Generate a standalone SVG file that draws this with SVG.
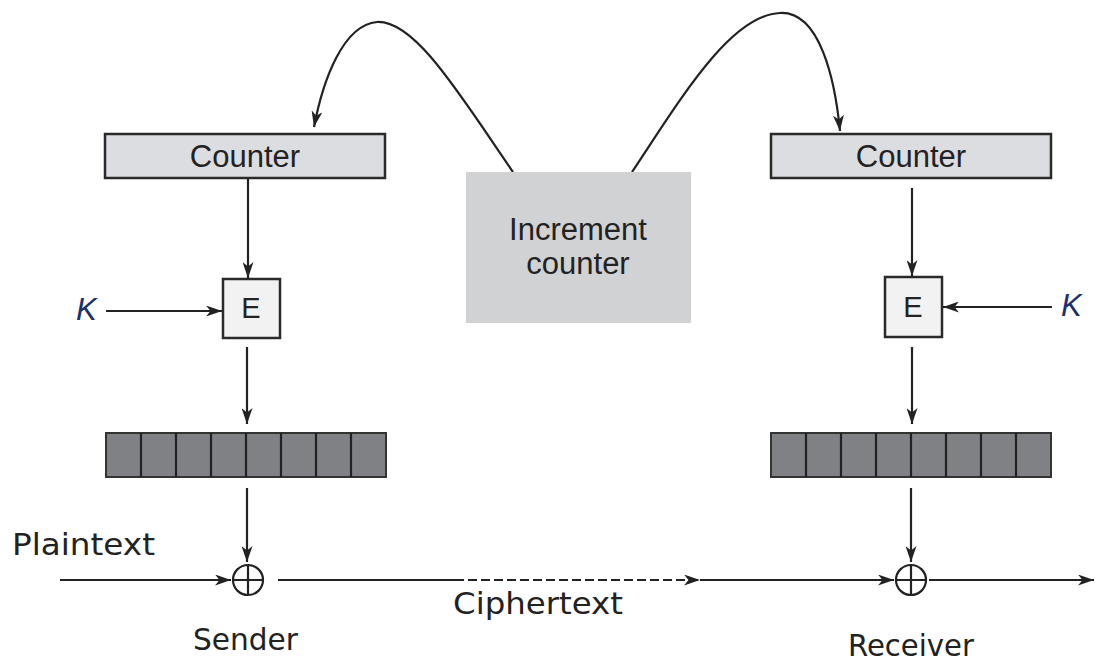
<svg xmlns="http://www.w3.org/2000/svg" width="1095" height="663" viewBox="0 0 1095 663">
<defs>
<marker id="ah" markerUnits="userSpaceOnUse" viewBox="0 0 16 11" markerWidth="16" markerHeight="11" refX="16" refY="5.5" orient="auto">
<path d="M0,0 L16,5.5 L0,11 L4.5,5.5 z" fill="#222"/>
</marker>
<style>
.ln{stroke:#222;stroke-width:2.2;fill:none}
.cnt{fill:#dcdde0;stroke:#2a2a2a;stroke-width:2.5}
.inc{fill:#d1d2d4}
.ebox{fill:#f2f2f2;stroke:#2a2a2a;stroke-width:2.5}
.reg{fill:#808184;stroke:#333;stroke-width:2}
.xor{fill:none;stroke:#222;stroke-width:2.2}
.ar{font-family:"Liberation Sans",Arial,sans-serif;fill:#222;text-anchor:middle}
.dv{font-family:"DejaVu Sans",Verdana,sans-serif;fill:#222;font-size:30px}
.k{font-family:"Liberation Sans",Arial,sans-serif;font-style:italic;fill:#1c2f6e;font-size:31px}
</style>
</defs>
<rect width="1095" height="663" fill="#fff"/>

<g id="connectors">
<path class="ln" d="M513 172 C460 95,415 20,377 22 C343 25,323 80,314 127" marker-end="url(#ah)"/>
<path class="ln" d="M632 172 C680 100,730 15,780 13 C820 11,835 80,840 131" marker-end="url(#ah)"/>
<line class="ln" x1="248" y1="178" x2="248" y2="278" marker-end="url(#ah)"/>
<line class="ln" x1="912" y1="188" x2="912" y2="276" marker-end="url(#ah)"/>
<line class="ln" x1="106" y1="311" x2="222" y2="311" marker-end="url(#ah)"/>
<line class="ln" x1="1052" y1="307" x2="943" y2="307" marker-end="url(#ah)"/>
<line class="ln" x1="247" y1="347" x2="247" y2="424" marker-end="url(#ah)"/>
<line class="ln" x1="912" y1="347" x2="912" y2="424" marker-end="url(#ah)"/>
<line class="ln" x1="247" y1="488" x2="247" y2="562" marker-end="url(#ah)"/>
<line class="ln" x1="911" y1="488" x2="911" y2="562" marker-end="url(#ah)"/>
<line class="ln" x1="60" y1="580" x2="231" y2="580" marker-end="url(#ah)"/>
<line class="ln" x1="278" y1="580" x2="455" y2="580"/>
<line class="ln" x1="455" y1="580" x2="700" y2="580" stroke-dasharray="9 4" marker-end="url(#ah)"/>
<line class="ln" x1="700" y1="580" x2="894" y2="580" marker-end="url(#ah)"/>
<line class="ln" x1="929" y1="580" x2="1094" y2="580" marker-end="url(#ah)"/>
</g>

<g id="counter-left">
<rect class="cnt" x="105" y="134" width="280" height="44"/>
<text class="ar" x="245" y="167" font-size="31">Counter</text>
</g>
<g id="counter-right">
<rect class="cnt" x="771" y="134" width="280" height="44"/>
<text class="ar" x="911" y="167" font-size="31">Counter</text>
</g>
<g id="increment">
<rect class="inc" x="466" y="172" width="225" height="151"/>
<text class="ar" x="578" y="240" font-size="31">Increment</text>
<text class="ar" x="578" y="274" font-size="31">counter</text>
</g>
<g id="e-left">
<rect class="ebox" x="223" y="279" width="57" height="59"/>
<text class="ar" x="251" y="318" font-size="29">E</text>
</g>
<g id="e-right">
<rect class="ebox" x="885" y="277" width="57" height="60"/>
<text class="ar" x="913" y="317" font-size="29">E</text>
</g>
<g id="k-left"><text class="k" x="76" y="320">K</text></g>
<g id="k-right"><text class="k" x="1061" y="316">K</text></g>

<g id="register-left">
<rect class="reg" x="106" y="433" width="280" height="44"/>
<path class="ln" d="M141 433V477M176 433V477M211 433V477M246 433V477M281 433V477M316 433V477M351 433V477"/>
</g>
<g id="register-right">
<rect class="reg" x="771" y="433" width="280" height="44"/>
<path class="ln" d="M806 433V477M841 433V477M876 433V477M911 433V477M946 433V477M981 433V477M1016 433V477"/>
</g>

<g id="xor-left">
<circle class="xor" cx="248" cy="580" r="15"/>
<path class="xor" d="M233 580H263M248 565V595"/>
</g>
<g id="xor-right">
<circle class="xor" cx="911" cy="580" r="15"/>
<path class="xor" d="M896 580H926M911 565V595"/>
</g>

<g id="labels">
<text class="dv" x="12" y="555" textLength="143" lengthAdjust="spacingAndGlyphs">Plaintext</text>
<text class="dv" x="453" y="614" textLength="170" lengthAdjust="spacingAndGlyphs">Ciphertext</text>
<text class="dv" x="193" y="650" textLength="105" lengthAdjust="spacingAndGlyphs">Sender</text>
<text class="dv" x="848" y="656" textLength="126" lengthAdjust="spacingAndGlyphs">Receiver</text>
</g>
</svg>
